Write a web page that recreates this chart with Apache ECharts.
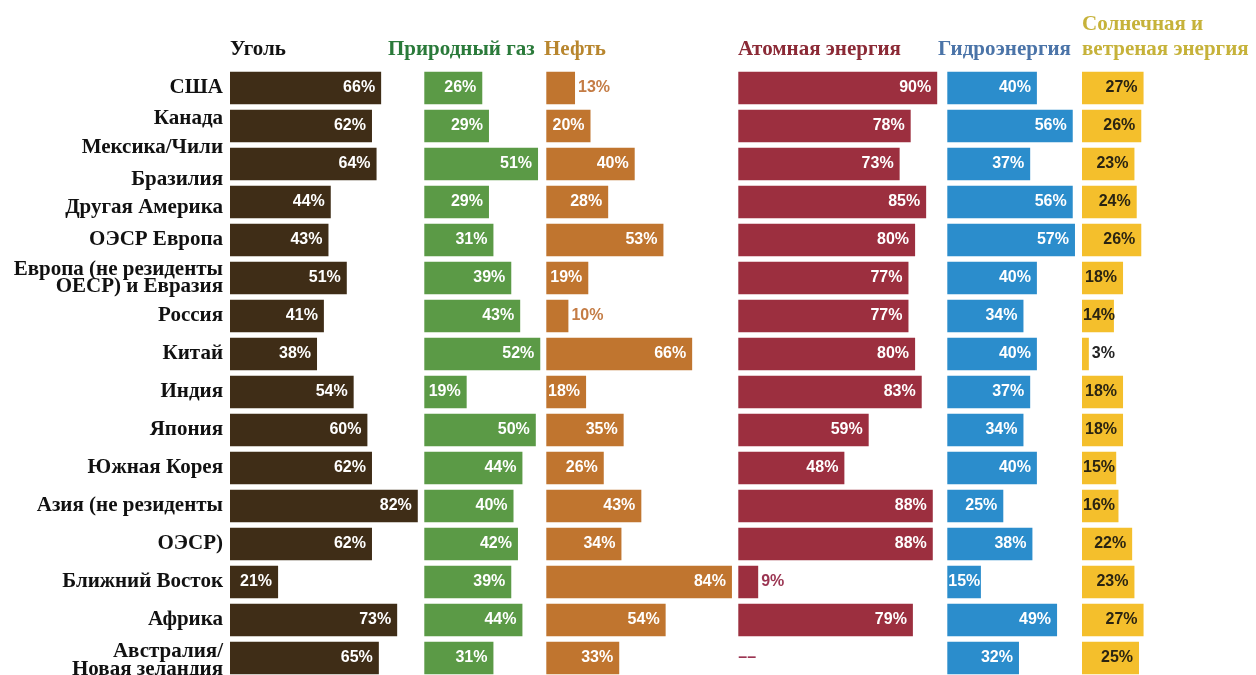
<!DOCTYPE html>
<html>
<head>
<meta charset="utf-8">
<script src="https://cdn.jsdelivr.net/npm/echarts@6/dist/echarts.min.js"></script>
<style>
  html, body { margin: 0; padding: 0; background: #ffffff; }
  #chart { width: 1256px; height: 675px; }
</style>
</head>
<body>
<div id="chart"></div>
<script>
// Регионы (строки) и доли по видам топлива, %
const regions = [
  'США',
  'Канада',
  'Мексика/Чили\nБразилия',
  'Другая Америка',
  'ОЭСР Европа',
  'Европа (не резиденты\nОЕСР) и Евразия',
  'Россия',
  'Китай',
  'Индия',
  'Япония',
  'Южная Корея',
  'Азия (не резиденты',
  'ОЭСР)',
  'Ближний Восток',
  'Африка',
  'Австралия/\nНовая зеландия'
];

const coal    = [66, 62, 64, 44, 43, 51, 41, 38, 54, 60, 62, 82, 62, 21, 73, 65];
const gas     = [26, 29, 51, 29, 31, 39, 43, 52, 19, 50, 44, 40, 42, 39, 44, 31];
const oil     = [13, 20, 40, 28, 53, 19, 10, 66, 18, 35, 26, 43, 34, 84, 54, 33];
const nuclear = [90, 78, 73, 85, 80, 77, 77, 80, 83, 59, 48, 88, 88, 9, 79, null];
const hydro   = [40, 56, 37, 56, 57, 40, 34, 40, 37, 34, 40, 25, 38, 15, 49, 32];
const solar   = [27, 26, 23, 24, 26, 18, 14, 3, 18, 18, 15, 16, 22, 23, 27, 25];

const titles = ['Уголь', 'Природный газ', 'Нефть', 'Атомная энергия', 'Гидроэнергия', 'Солнечная и\nветреная энергия'];

// Оформление панелей: начало оси, пикселей на процент, верх шкалы, цвета
const SERIF = '"Liberation Serif", "Times New Roman", serif';
const SANS = '"Liberation Sans", Arial, sans-serif';
const panels = [
  { data: coal,    left: 230,   pxPerPct: 2.29, max: 100, bar: '#3f2d17', inner: '#ffffff', outer: '#3f2d17', head: '#111111', headX: 230 },
  { data: gas,     left: 424.3, pxPerPct: 2.23, max: 100, bar: '#5b9a46', inner: '#ffffff', outer: '#5b9a46', head: '#2a7a3a', headX: 388 },
  { data: oil,     left: 546.3, pxPerPct: 2.21, max: 100, bar: '#c0752f', inner: '#ffffff', outer: '#c47c45', head: '#b8862e', headX: 544 },
  { data: nuclear, left: 738.3, pxPerPct: 2.21, max: 100, bar: '#9c2f3f', inner: '#ffffff', outer: '#9b3552', head: '#8b2a36', headX: 738 },
  { data: hydro,   left: 947.3, pxPerPct: 2.24, max: 100, bar: '#2b8dcc', inner: '#ffffff', outer: '#2b8dcc', head: '#4b74a8', headX: 938 },
  { data: solar,   left: 1082,  pxPerPct: 2.28, max: 50,  bar: '#f4bf2c', inner: '#2a2412', outer: '#222222', head: '#c6b23a', headX: 1082 }
];

// Подписи строк: межстрочный интервал и сдвиг по вертикали (через пустую строку-распорку)
const labelLineHeight = { 'Мексика/Чили\nБразилия': 32, 'Европа (не резиденты\nОЕСР) и Евразия': 17, 'Австралия/\nНовая зеландия': 18 };
const labelShift = { 'Канада': -7, 'Другая Америка': 6, 'Австралия/\nНовая зеландия': 3 };

function rowLabel(name) {
  const lh = labelLineHeight[name];
  const style = lh ? 'l' + lh : 't';
  let text = name.split('\n').map(s => '{' + style + '|' + s + '}').join('\n');
  const shift = labelShift[name];
  if (shift) {
    const spacer = '{sp' + Math.abs(shift) * 2 + '| }';
    text = shift < 0 ? text + '\n' + spacer : spacer + '\n' + text;
  }
  return text;
}

const rich = { t: { lineHeight: 21 } };
Object.values(labelLineHeight).forEach(lh => { rich['l' + lh] = { lineHeight: lh }; });
Object.values(labelShift).forEach(s => { rich['sp' + Math.abs(s) * 2] = { lineHeight: Math.abs(s) * 2, fontSize: 2 }; });
Object.keys(rich).forEach(k => {
  rich[k] = Object.assign({ fontFamily: SERIF, fontWeight: 'bold', fontSize: 21, color: '#111111', align: 'right' }, rich[k]);
});

const GRID_TOP = 69;
const ROW = 38;
const gridHeight = ROW * regions.length;

const grid = [], xAxis = [], yAxis = [], series = [];

panels.forEach((p, i) => {
  grid.push({
    left: p.left, top: GRID_TOP, width: p.pxPerPct * p.max, height: gridHeight,
    containLabel: false, outerBoundsMode: 'none'
  });
  xAxis.push({ gridIndex: i, type: 'value', min: 0, max: p.max, show: false });
  yAxis.push({
    gridIndex: i,
    type: 'category',
    inverse: true,
    data: regions,
    axisLine: { show: false },
    axisTick: { show: false },
    splitLine: { show: false },
    axisLabel: {
      show: i === 0,
      margin: 7,
      fontFamily: SERIF,
      fontWeight: 'bold',
      fontSize: 21,
      color: '#111111',
      formatter: rowLabel,
      rich
    }
  });
  series.push({
    type: 'bar',
    xAxisIndex: i,
    yAxisIndex: i,
    barWidth: 32.5,
    itemStyle: { color: p.bar },
    label: {
      show: true,
      position: 'insideRight',
      distance: 6,
      color: p.inner,
      fontFamily: SANS,
      fontWeight: 'bold',
      fontSize: 16,
      formatter: q => q.value + '%'
    },
    data: p.data.map(v => {
      if (v == null) {
        return { value: 0, label: { position: 'insideLeft', distance: 0, color: p.outer, formatter: '––' } };
      }
      if (v < 14) {
        return { value: v, label: { position: 'right', distance: 3, color: p.outer } };
      }
      if (v * p.pxPerPct < 38) {
        return { value: v, label: { position: 'insideLeft', distance: 1 } };
      }
      return v;
    })
  });
});

// Заголовки колонок
const graphic = panels.map((p, i) => ({
  type: 'text',
  x: p.headX,
  y: 62,
  style: {
    text: titles[i],
    font: 'bold 21px ' + SERIF,
    fill: p.head,
    verticalAlign: 'bottom',
    lineHeight: 25
  }
}));

const chart = echarts.init(document.getElementById('chart'), null, { renderer: 'canvas' });
chart.setOption({
  animation: false,
  backgroundColor: '#ffffff',
  grid, xAxis, yAxis, series, graphic
});
</script>
</body>
</html>
